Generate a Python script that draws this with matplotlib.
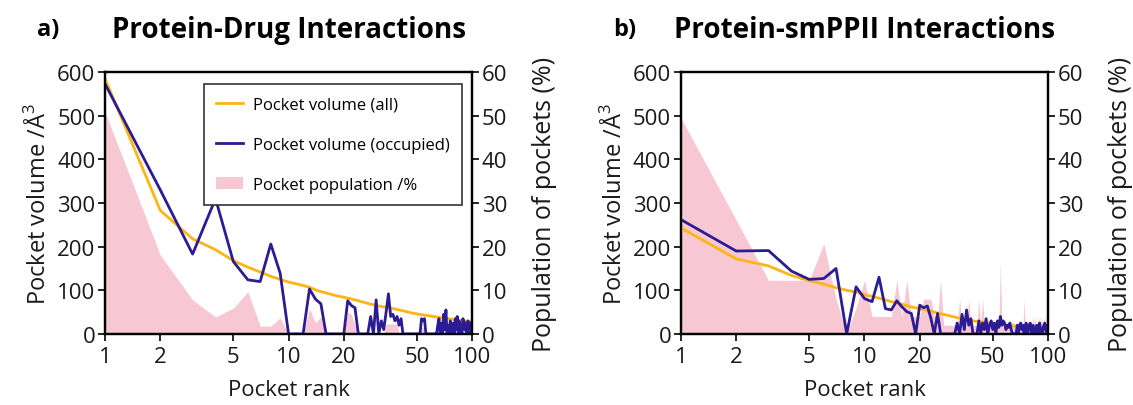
import numpy as np
import matplotlib
matplotlib.use("Agg")
import matplotlib.pyplot as plt
from matplotlib.patches import Patch
from matplotlib.lines import Line2D

plt.rcParams['font.family'] = ['Open Sans', 'DejaVu Sans']
plt.rcParams['mathtext.fontset'] = 'custom'
plt.rcParams['mathtext.rm'] = 'Open Sans'

# ======== DATA ========
ranks = np.arange(1, 101)

# a) Protein-Drug
drug_vol_all = [
    585, 283, 218, 193, 168, 153, 142, 132, 125, 119,
    115, 111, 107, 101, 97, 94, 91, 88, 86, 84,
    82, 80, 78, 76, 74, 72, 70, 68, 67, 65,
    64, 63, 62, 61, 60, 59, 58, 57, 56, 55,
    54, 53, 52, 51, 50, 49, 48, 47, 47, 46,
    45, 45, 44, 44, 43, 43, 42, 42, 41, 41,
    40, 40, 39, 39, 38, 38, 38, 37, 37, 36,
    36, 36, 35, 35, 35, 34, 34, 34, 33, 33,
    33, 32, 32, 32, 31, 31, 31, 30, 30, 30,
    30, 29, 29, 29, 28, 28, 28, 28, 27, 27,
]
drug_vol_occ = [
    573, 330, 183, 310, 166, 124, 120, 206, 139, 0,
    0, 0, 103, 80, 69, 0, 0, 0, 0, 0,
    76, 65, 60, 0, 0, 0, 0, 40, 0, 78,
    0, 30, 10, 50, 92, 40, 45, 30, 40, 20,
    35, 0, 0, 0, 0, 0, 0, 0, 0, 0,
    0, 0, 35, 30, 35, 0, 0, 0, 0, 0,
    0, 0, 0, 0, 20, 35, 0, 25, 0, 45,
    10, 55, 0, 20, 0, 30, 15, 0, 25, 0,
    35, 10, 40, 0, 30, 15, 20, 0, 35, 30,
    10, 25, 0, 20, 30, 5, 25, 0, 15, 30,
]
drug_pop = [
    50.9, 18.1, 7.8, 3.9, 5.9, 9.7, 1.8, 1.8, 3.7, 0,
    0, 0, 5.8, 2.5, 4.0, 0, 0, 0, 0, 0,
    5.0, 4.5, 2.0, 0, 0, 0, 0, 0, 0, 0,
    0, 0, 0, 2.3, 2.3, 2.3, 2.3, 2.3, 2.3, 0,
    0, 0, 0, 0, 0, 0, 0, 0, 0, 0,
    0, 0, 1.5, 1.5, 0, 0, 0, 0, 0, 0,
    0, 0, 0, 0, 0, 0, 0, 0, 0, 1.5,
    0, 1.5, 0, 0, 0, 0, 0, 0, 0, 0,
    0, 0, 1.5, 0, 0, 0, 0, 0, 0, 0,
    0, 0, 0, 0, 1.5, 0, 0, 0, 0, 0,
]

# b) Protein-smPPII
ppii_vol_all = [
    243, 172, 156, 134, 122, 114, 106, 100, 96, 90,
    86, 82, 78, 74, 71, 68, 65, 62, 60, 58,
    56, 54, 52, 50, 48, 46, 45, 43, 42, 40,
    39, 37, 36, 35, 34, 33, 32, 31, 30, 29,
    29, 28, 28, 27, 27, 26, 26, 25, 25, 24,
    24, 23, 23, 22, 22, 22, 21, 21, 21, 20,
    20, 20, 19, 19, 19, 18, 18, 18, 18, 17,
    17, 17, 17, 16, 16, 16, 16, 15, 15, 15,
    15, 15, 14, 14, 14, 14, 14, 13, 13, 13,
    13, 13, 12, 12, 12, 12, 12, 12, 11, 11,
]
ppii_vol_occ = [
    262, 190, 191, 144, 125, 127, 150, 0, 108, 81,
    74, 130, 58, 55, 76, 62, 51, 47, 0, 66,
    60, 64, 36, 0, 47, 0, 0, 0, 0, 0,
    0, 25, 0, 45, 10, 55, 20, 35, 0, 0,
    0, 30, 0, 25, 10, 35, 0, 20, 30, 10,
    25, 0, 30, 15, 40, 20, 30, 25, 10, 20,
    15, 25, 10, 0, 0, 0, 0, 20, 0, 20,
    25, 10, 20, 0, 15, 25, 0, 10, 20, 25,
    0, 15, 20, 5, 0, 10, 20, 0, 15, 25,
    10, 0, 0, 15, 20, 25, 10, 0, 20, 10,
]
ppii_pop = [
    49.5, 26.1, 12.3, 12.3, 12.3, 20.7, 8.0, 0, 6.0, 12.3,
    4, 4, 4, 4, 12.3, 4, 12.3, 4, 4, 4,
    8, 8, 8, 4, 4, 12.3, 2, 2, 2, 2,
    2, 2, 8, 2, 2, 2, 8, 2, 2, 2,
    2, 8, 2, 8, 2, 2, 2, 2, 2, 2,
    2, 2, 2, 2, 16.5, 2, 2, 2, 2, 2,
    2, 2, 2, 2, 2, 2, 2, 2, 2, 2,
    2, 2, 2, 8, 2, 2, 2, 2, 2, 2,
    2, 2, 4, 2, 4, 2, 2, 4, 2, 4,
    2, 4, 2, 2, 4, 2, 4, 2, 4, 2,
]

c_all = "#FDB515"
c_occ = "#2C1C93"
c_pop = "#F7C8D3"
c_txt = "#1a1a1a"

fig = plt.figure(figsize=(11.33, 4.06), dpi=100)


def panel(rect, vol_all, vol_occ, pop, letter, title, letter_x, legend=False):
    ax = fig.add_axes(rect)
    ax2 = ax.twinx()
    ax2.fill_between(ranks, 0, pop, color=c_pop, lw=0)
    ax.plot(ranks, vol_all, color=c_all, lw=2.0)
    ax.plot(ranks, vol_occ, color=c_occ, lw=2.0)
    ax.set_zorder(ax2.get_zorder() + 1)
    ax.patch.set_visible(False)

    ax.set_xscale("log")
    ax.set_xlim(1, 100)
    ax.set_ylim(0, 600)
    ax2.set_ylim(0, 60)
    ax.set_xticks([1, 2, 5, 10, 20, 50, 100])
    ax.set_xticklabels(["1", "2", "5", "10", "20", "50", "100"])
    ax.xaxis.set_minor_locator(matplotlib.ticker.NullLocator())
    ax.set_yticks(range(0, 601, 100))
    ax2.set_yticks(range(0, 61, 10))
    for a in (ax, ax2):
        a.tick_params(labelsize=16, length=5, width=1.2, direction="out", pad=2,
                      labelcolor=c_txt)
        for s in a.spines.values():
            s.set_linewidth(1.6)
    ax.tick_params(axis="x", pad=4)
    ax.set_xlabel("Pocket rank", fontsize=16, labelpad=8, color=c_txt)
    ax.set_ylabel("Pocket volume /Å$^{3}$", fontsize=17, labelpad=4, color=c_txt)
    ax2.set_ylabel("Population of pockets (%)", fontsize=18, labelpad=18, color=c_txt)

    fig.text(letter_x, 0.925, letter, fontsize=17, fontweight="bold", va="center")
    fig.text(rect[0] + rect[2] / 2, 0.925, title, fontsize=20, fontweight="bold",
             ha="center", va="center")

    if legend:
        handles = [Line2D([], [], color=c_all, lw=2.0),
                   Line2D([], [], color=c_occ, lw=2.0),
                   Patch(facecolor=c_pop, edgecolor="none")]
        labels = ["Pocket volume (all)", "Pocket volume (occupied)", "Pocket population /%"]
        leg = ax.legend(handles, labels, loc="upper right", fontsize=12,
                        fancybox=False, framealpha=1, edgecolor="#333333",
                        labelspacing=1.45, handlelength=1.6, handletextpad=0.6,
                        borderpad=0.75, borderaxespad=0,
                        bbox_to_anchor=(0.973, 0.955))
        leg.get_frame().set_linewidth(1.2)


panel([0.0927, 0.175, 0.324, 0.645], drug_vol_all, drug_vol_occ, drug_pop,
      "a)", "Protein-Drug Interactions", 0.033, legend=True)
panel([0.601, 0.175, 0.324, 0.645], ppii_vol_all, ppii_vol_occ, ppii_pop,
      "b)", "Protein-smPPII Interactions", 0.541)

fig.savefig("out.png", dpi=100)
